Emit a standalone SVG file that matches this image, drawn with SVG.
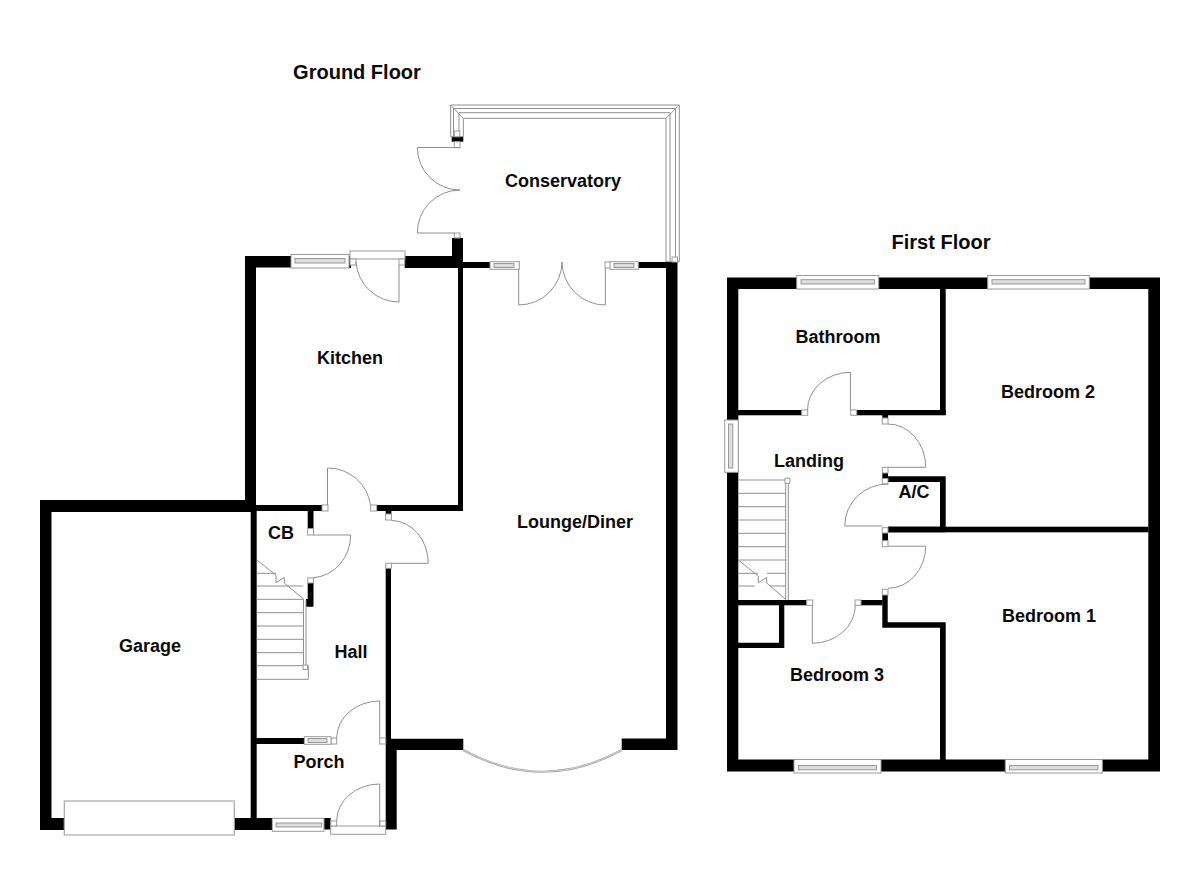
<svg xmlns="http://www.w3.org/2000/svg" width="1200" height="873" viewBox="0 0 1200 873">
<style>
.w{fill:#000;stroke:none}
.l{fill:none;stroke:#8f8f8f;stroke-width:1}
.b{fill:#fff;stroke:#999;stroke-width:1}
.g{fill:#fff;stroke:#a8a8a8;stroke-width:1.2}
.i{fill:#ddd;stroke:#8f8f8f;stroke-width:.9}
text{font-family:"Liberation Sans",Arial,sans-serif;font-weight:700;font-size:18px;fill:#0a0a0a;text-anchor:middle}
.h{font-size:20px}
</style>
<rect width="1200" height="873" fill="#fff"/>
<g id="walls-ground">
<path class="w" fill-rule="evenodd" d="M40 500H245V256H292V267.500H256V505H322V511H256.700V818H272V830H40ZM51.500 512V818H250.700V512Z"/>
<path class="w" d="M349 256H351V268H349ZM404.700 256H452V238H463V262H490V268H463V511H377V505H458V268H404.700Z"/>
<rect class="w" x="307.700" y="511" width="5.800" height="17.500"/>
<path class="w" d="M307.700 583H313.500V606.700H306V599H307.700Z"/>
<rect class="w" x="385.700" y="511" width="5.700" height="3"/>
<path class="w" d="M385.700 568H391V738.700H463.300V750H396.700V829.500H385.700Z"/>
<rect class="w" x="256" y="738" width="48.500" height="6"/>
<rect class="w" x="324" y="818" width="6.700" height="11.500"/>
<rect class="w" x="451.700" y="136.700" width="11.600" height="5"/>
<path class="w" d="M638 262H677.500V750H621.700V738.500H666V268H638Z"/>
</g>
<g id="walls-first">
<path class="w" fill-rule="evenodd" d="M727 277.500H1160V771.500H727ZM738.300 289V759.500H1148.300V289Z"/>
<rect class="w" x="940" y="288" width="5.700" height="127"/>
<rect class="w" x="738" y="410" width="63.700" height="5.300"/>
<rect class="w" x="856.700" y="410" width="89" height="5.300"/>
<rect class="w" x="882.300" y="415" width="5.700" height="3"/>
<rect class="w" x="882.300" y="473" width="5.700" height="5.500"/>
<path class="w" d="M888 476.300H945.700V532.300H888V526.700H940V482H888Z"/>
<rect class="w" x="888" y="526.700" width="260.500" height="5.600"/>
<rect class="w" x="882.300" y="533" width="5.700" height="7.700"/>
<path class="w" d="M882.300 595H887.700V622.300H945.700V760H940V627.700H882.300Z"/>
<rect class="w" x="738" y="600" width="68.700" height="5.300"/>
<rect class="w" x="861" y="600" width="21.500" height="5.300"/>
<path class="w" d="M779 605H784.300V648H738V642.700H779Z"/>
</g>
<g id="conservatory-frame">
<path class="l" d="M450.700 136.700V105H679.300V261.700H666V118.300H463.300V136.700H450.700M453.500 136.700V108.500H675.500V261.700M459 131V112.700H670V261.700M450.700 105L463.300 118.300M679.300 105L666 118.300"/>
<rect class="b" x="454.300" y="131" width="5.500" height="5.700"/>
<rect class="b" x="672" y="257" width="5.500" height="5"/>
</g>
<g id="doors">
<rect class="b" x="454.300" y="141.700" width="5.700" height="6"/>
<rect class="b" x="454.300" y="233" width="5.700" height="5"/>
<path class="l" d="M460 147.500H417.300A42.700 42.700 0 0 0 460 190A42.700 42.700 0 0 0 417.300 233H454.300"/>
<path class="l" d="M518.700 268V305A43.300 43.300 0 0 0 562 262A43.300 43.300 0 0 0 605.300 305V268"/>
<rect class="b" x="605" y="262" width="5.700" height="6"/>
<rect class="b" x="350" y="251" width="55" height="8"/>
<rect class="b" x="350" y="259" width="6" height="6"/>
<rect class="b" x="399" y="259" width="5.700" height="6"/>
<path class="l" d="M399 265V302A43 43 0 0 1 356 262"/>
<rect class="b" x="322" y="505" width="6" height="6"/>
<rect class="b" x="370.700" y="505" width="6" height="6"/>
<path class="l" d="M327.500 505V468A43 43 0 0 1 370.500 505"/>
<rect class="b" x="307.700" y="528.500" width="5.800" height="6.500"/>
<rect class="b" x="307.700" y="578" width="5.800" height="5"/>
<path class="l" d="M313.500 535H350.700A40 42.700 0 0 1 313.500 577.700"/>
<rect class="b" x="385.700" y="514" width="5.700" height="6"/>
<rect class="b" x="385.700" y="563.300" width="5.700" height="5"/>
<path class="l" d="M391.400 520.500A37 43 0 0 1 428.300 563.300H391.400"/>
<rect class="b" x="331" y="738" width="5.700" height="6"/>
<rect class="b" x="379.700" y="738" width="6" height="6"/>
<path class="l" d="M379.700 738V701A43 37 0 0 0 336.700 738"/>
<rect class="b" x="330.700" y="826" width="55" height="8.300"/>
<rect class="b" x="330.700" y="821" width="6" height="5"/>
<rect class="b" x="379.700" y="821" width="6" height="5"/>
<path class="l" d="M379.700 826V784A43 37 0 0 0 336.700 821"/>
<rect class="b" x="801.700" y="410" width="6" height="5.300"/>
<rect class="b" x="850.700" y="410" width="6" height="5.300"/>
<path class="l" d="M850.400 410V372.300A43 37.700 0 0 0 807.500 410"/>
<rect class="b" x="882.300" y="418" width="5.700" height="6"/>
<rect class="b" x="882.300" y="467.300" width="5.700" height="5.700"/>
<path class="l" d="M888 424A37.700 43 0 0 1 925.700 467.300H888"/>
<rect class="b" x="882.300" y="478.500" width="5.700" height="5.500"/>
<rect class="b" x="882.300" y="527.700" width="5.700" height="5.300"/>
<path class="l" d="M888 484A43 42 0 0 0 844.700 526H882.300"/>
<rect class="b" x="882.300" y="540.700" width="5.700" height="6"/>
<rect class="b" x="882.300" y="589.300" width="5.700" height="5.700"/>
<path class="l" d="M888 546.200H925.700A37.700 42 0 0 1 888 588.300"/>
<rect class="b" x="806.700" y="600" width="6" height="5.300"/>
<rect class="b" x="855" y="600" width="6" height="5.300"/>
<path class="l" d="M812.300 605.300V643.300A43 38 0 0 0 855.300 605.300"/>
</g>
<g id="windows">
<rect class="b" x="291" y="254.500" width="58" height="13.500"/><rect class="i" x="295" y="258.500" width="50" height="4.500"/>
<rect class="b" x="490" y="261.700" width="29.300" height="7.600"/><rect class="i" x="494" y="263.500" width="20" height="4"/>
<rect class="b" x="610" y="261.700" width="28.300" height="7.600"/><rect class="i" x="614" y="263.500" width="20" height="4"/>
<rect class="b" x="304.300" y="736.700" width="26.700" height="7.600"/><rect class="i" x="308" y="738.500" width="19" height="4"/>
<rect class="b" x="272.300" y="818.300" width="51.700" height="13"/><rect class="i" x="276" y="823" width="45.700" height="4"/>
<rect class="b" x="796.700" y="275.500" width="82" height="13.500"/><rect class="i" x="801" y="279.700" width="73.500" height="4.300"/>
<rect class="b" x="987.700" y="275.500" width="101.600" height="13.500"/><rect class="i" x="992" y="279.700" width="93" height="4.300"/>
<rect class="b" x="794" y="759.500" width="87" height="13.500"/><rect class="i" x="798.500" y="765.500" width="78" height="4.300"/>
<rect class="b" x="1005.300" y="759.500" width="97" height="13.500"/><rect class="i" x="1009.500" y="765.500" width="88.500" height="4.300"/>
<rect class="b" x="724.700" y="420" width="13.600" height="52.300"/><rect class="i" x="728.500" y="424" width="4.300" height="44"/>
<rect class="g" x="64.300" y="801" width="170" height="34"/>
<path d="M463.300 750Q542.500 793.500 621.700 750" fill="none" stroke="#a0a0a0" stroke-width="2.200"/>
<path d="M463.300 750Q542.500 793.500 621.700 750" fill="none" stroke="#eee" stroke-width=".6"/>
</g>
<g id="stairs">
<path class="l" d="M256.700 573.300H276M256.700 586H303.300M256.700 599.300H303.300M256.700 612.700H303.300M256.700 626H303.300M256.700 639.300H303.300M256.700 652.700H303.300M256.700 665.700H308.300V679.300H256.700M256.700 560L276 575V582.700L284.300 577.300V583L303.500 599V666M306 600V666"/>
<rect class="b" x="303" y="665" width="4.500" height="4.500"/>
<path class="l" d="M738.300 480H785.700M738.300 493.300H785.700M738.300 506.700H785.700M738.300 520H785.700M738.300 533.300H785.700M738.300 546.700H785.700M738.300 560H785.700M738.300 573.300H758M766.700 573.300H785.700M770 586H785.700M738.300 586H755M738.300 560L758.300 576V582.700L766.700 577.300V583L785.500 599.300M785.700 480V600M788.300 483V600"/>
<rect class="b" x="785" y="478.300" width="4.800" height="5"/>
</g>
<g id="labels">
<text class="h" x="357" y="79">Ground Floor</text>
<text class="h" x="941" y="249">First Floor</text>
<text x="563" y="187">Conservatory</text>
<text x="350" y="364">Kitchen</text>
<text x="575" y="528">Lounge/Diner</text>
<text x="281" y="539">CB</text>
<text x="351" y="658">Hall</text>
<text x="150" y="652">Garage</text>
<text x="319" y="768">Porch</text>
<text x="838" y="343">Bathroom</text>
<text x="1048" y="398">Bedroom 2</text>
<text x="809" y="467">Landing</text>
<text x="914" y="498">A/C</text>
<text x="1049" y="622">Bedroom 1</text>
<text x="837" y="681">Bedroom 3</text>
</g>
</svg>
